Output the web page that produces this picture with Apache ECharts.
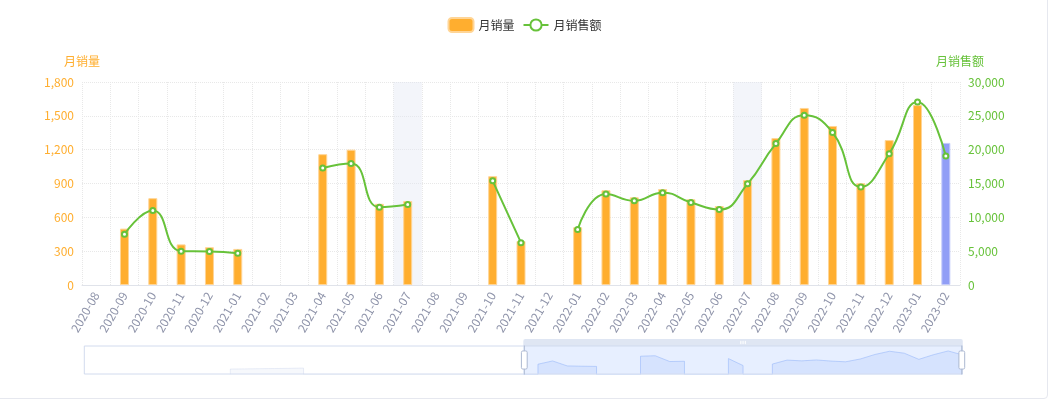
<!DOCTYPE html>
<html>
<head>
<meta charset="utf-8">
<script src="https://cdn.jsdelivr.net/npm/echarts@6/dist/echarts.min.js"></script>
<style>
  html, body { margin: 0; padding: 0; background: #fff; overflow: hidden; }
  #card { position: absolute; left: -20px; top: -20px; width: 1068px; height: 419px; box-sizing: border-box; border: 1px solid #e6e8ef; border-radius: 4px; }
  #chart { position: absolute; left: 0; top: 0; width: 1049px; height: 401px; }
</style>
</head>
<body>
<div id="card"></div>
<div id="chart"></div>
<script>
const months = [
  '2018-02','2018-03','2018-04','2018-05','2018-06','2018-07','2018-08','2018-09','2018-10','2018-11','2018-12',
  '2019-01','2019-02','2019-03','2019-04','2019-05','2019-06','2019-07','2019-08','2019-09','2019-10','2019-11','2019-12',
  '2020-01','2020-02','2020-03','2020-04','2020-05','2020-06','2020-07','2020-08','2020-09','2020-10','2020-11','2020-12',
  '2021-01','2021-02','2021-03','2021-04','2021-05','2021-06','2021-07','2021-08','2021-09','2021-10','2021-11','2021-12',
  '2022-01','2022-02','2022-03','2022-04','2022-05','2022-06','2022-07','2022-08','2022-09','2022-10','2022-11','2022-12',
  '2023-01','2023-02'
];
const salesVolume = [
  null,null,null,null,null,null,null,null,null,null,
  100,115,130,145,160,180,
  null,null,null,null,null,null,null,null,null,null,null,null,null,null,
  null,500,770,360,335,320,null,null,1160,1200,720,745,null,null,965,390,null,
  512,840,777,851,760,700,931,1303,1570,1410,902,1285,1595,1260
];
const salesAmount = [
  null,null,null,null,null,null,null,null,null,null,
  1500,1700,1900,2100,2400,2700,
  null,null,null,null,null,null,null,null,null,null,null,null,null,null,
  null,7500,11000,5000,4950,4700,null,null,17300,17950,11500,11900,null,null,15400,6250,null,
  8200,13450,12450,13650,12200,11150,14950,20900,25100,22550,14500,19400,27050,19050
];
const highlightMonths = ['2021-07', '2022-07'];
const currentMonth = '2023-02';

const ORANGE = '#FFAE2F';
const GREEN = '#67C23A';
const PURPLE = '#919EF6';
const FONT = "'Microsoft YaHei', 'Noto Sans CJK SC', sans-serif";

const chart = echarts.init(document.getElementById('chart'));
chart.setOption({
  animation: false,
  textStyle: { fontFamily: FONT },
  legend: {
    top: 12,
    left: 'center',
    textStyle: { color: '#333', fontSize: 12, fontFamily: FONT },
    data: ['月销量', '月销售额']
  },
  grid: { left: 82, right: 89, top: 82, bottom: 116, containLabel: false },
  dataZoom: [
    {
      type: 'slider', start: 50, end: 100, left: 81, right: 89, bottom: 33, height: 29,
      backgroundColor: 'rgba(0,0,0,0)',
      borderColor: '#d2dbee',
      fillerColor: 'rgba(135,175,255,0.2)',
      moveHandleStyle: { color: '#D2DBEE', opacity: 0.7 },
      handleStyle: { color: '#fff', borderColor: '#ACB8D1' },
      dataBackground: { lineStyle: { color: '#D2DBEE', width: 0.5 }, areaStyle: { color: '#D2DBEE', opacity: 0.2 } },
      selectedDataBackground: { lineStyle: { color: '#8FB0F7' }, areaStyle: { color: '#8FB0F7', opacity: 0.2 } },
      showDetail: false
    },
    { type: 'inside', start: 50, end: 100 }
  ],
  xAxis: {
    type: 'category',
    data: months,
    boundaryGap: true,
    axisLine: { lineStyle: { color: '#e0e3ea' } },
    axisTick: { lineStyle: { color: '#e0e3ea' } },
    axisLabel: { rotate: 60, color: '#8f94aa', fontSize: 12, interval: 0, fontFamily: FONT },
    splitLine: { show: true, lineStyle: { type: 'dotted', color: '#e8e8e8' } }
  },
  yAxis: [
    {
      type: 'value', name: '月销量', min: 0, max: 1800, interval: 300,
      nameTextStyle: { color: ORANGE, fontSize: 12, fontFamily: FONT },
      axisLine: { show: false }, axisTick: { show: false },
      axisLabel: { color: ORANGE, fontSize: 12, fontFamily: FONT },
      splitLine: { show: true, lineStyle: { type: 'dotted', color: '#e8e8e8' } }
    },
    {
      type: 'value', name: '月销售额', min: 0, max: 30000, interval: 5000,
      nameTextStyle: { color: GREEN, fontSize: 12, fontFamily: FONT },
      axisLine: { show: false }, axisTick: { show: false },
      axisLabel: { color: GREEN, fontSize: 12, fontFamily: FONT },
      splitLine: { show: false }
    }
  ],
  series: [
    {
      name: '月销量',
      type: 'bar',
      yAxisIndex: 0,
      barWidth: 9,
      itemStyle: { color: ORANGE, borderColor: '#ffd596', borderWidth: 1 },
      data: salesVolume.map((v, i) => months[i] === currentMonth ? { value: v, itemStyle: { color: PURPLE, borderColor: '#c3cafa' } } : v),
      markArea: {
        silent: true,
        itemStyle: { color: 'rgba(225,230,242,0.4)' },
        data: highlightMonths.map(m => [{ xAxis: m }, { xAxis: m }])
      }
    },
    {
      name: '月销售额',
      type: 'line',
      yAxisIndex: 1,
      smooth: true,
      connectNulls: false,
      symbol: 'circle',
      symbolSize: 5,
      lineStyle: { color: GREEN, width: 2 },
      itemStyle: { color: '#fff', borderColor: GREEN, borderWidth: 2 },
      data: salesAmount
    }
  ]
});
</script>
</body>
</html>
